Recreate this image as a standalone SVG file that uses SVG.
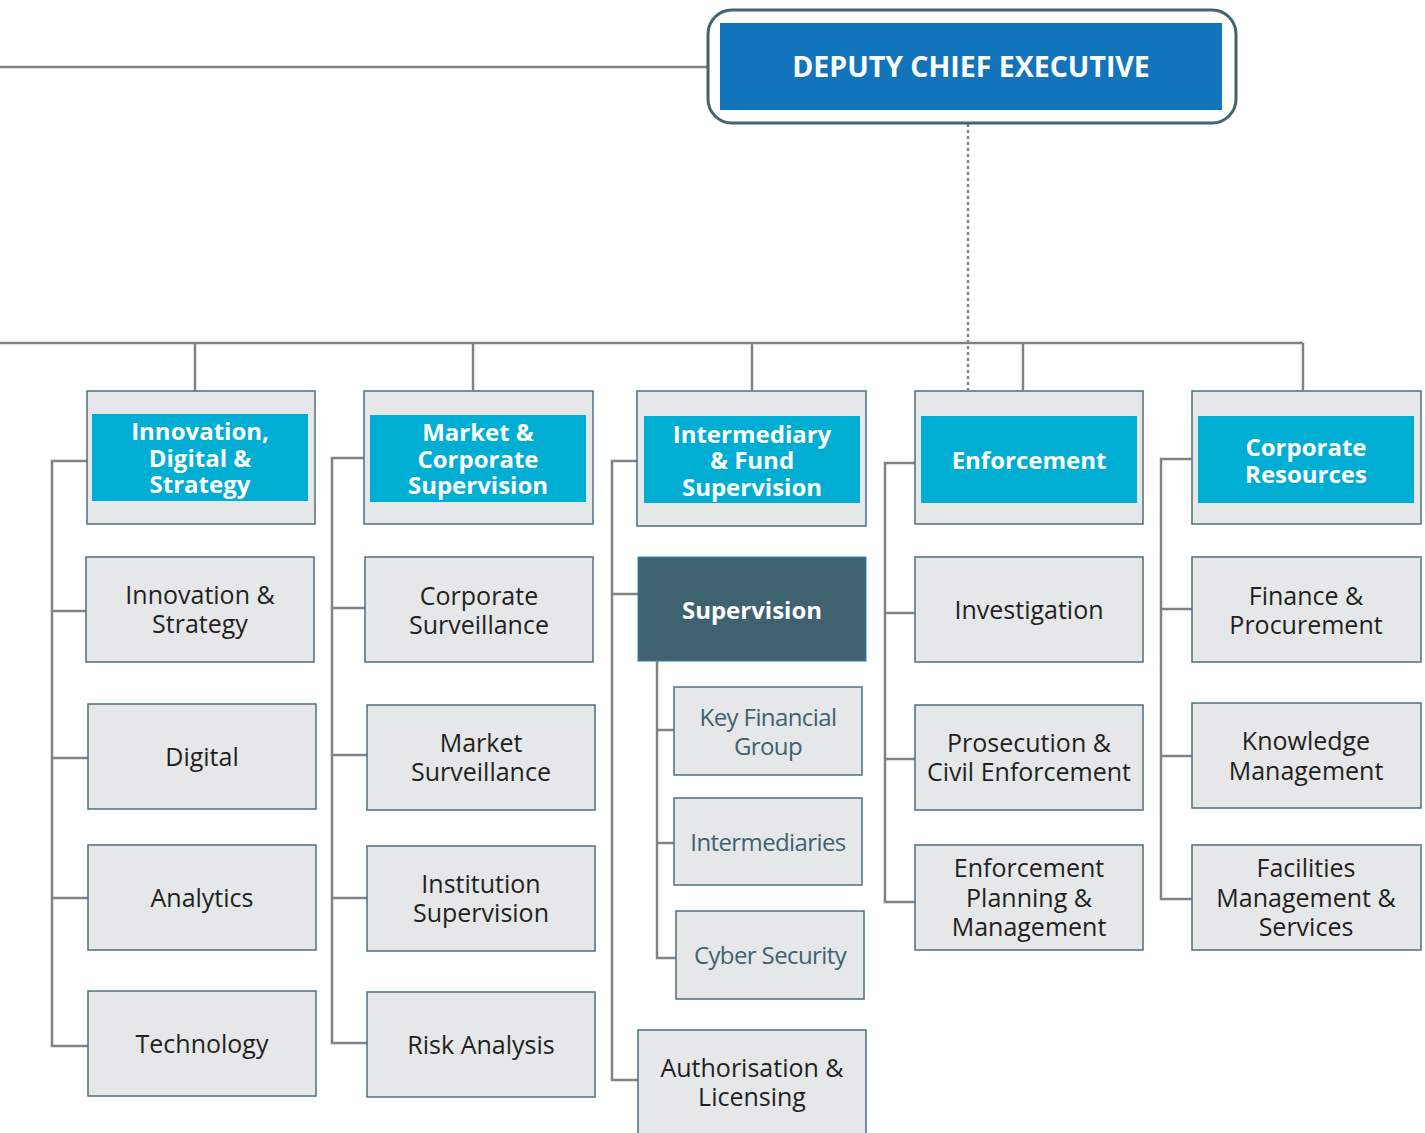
<svg xmlns="http://www.w3.org/2000/svg" width="1425" height="1133" viewBox="0 0 1425 1133">
<style>
.box{fill:#e6e7e8;stroke:#4f6f7b;stroke-width:1.5}
.hdr{fill:#00aed3}
.dark{fill:#3f6270;stroke:#2f7fc0;stroke-width:1}
.ln{stroke:#808285;stroke-width:2.5;fill:none}
text{font-family:"Open Sans","Noto Sans",sans-serif;text-anchor:middle;dominant-baseline:central}
.ht{fill:#fff;font-weight:bold;font-size:24px}
.t{fill:#231f20;font-size:25px}
.st{fill:#3f6270;font-size:24px;letter-spacing:-0.6px}
</style>
<g id="connectors">
<path class="ln" d="M0 67H707"/>
<path class="ln" d="M968 124V390" stroke-dasharray="3 3"/>
<path class="ln" d="M0 343H1303M195 343V390M473 343V390M752 343V390M1023 343V390M1303 343V390"/>
<path class="ln" d="M87 461H52V1046H88M52 611H86M52 758H88M52 898H88"/>
<path class="ln" d="M364 458H332V1043H367M332 608H365M332 755H367M332 898H367"/>
<path class="ln" d="M637 461H612V1080H638M612 594H638"/>
<path class="ln" d="M657 661V958H676M657 730H674M657 843H674"/>
<path class="ln" d="M915 463H885V902H915M885 613H915M885 759H915"/>
<path class="ln" d="M1192 459H1161V899H1192M1161 609H1192M1161 756H1192"/>
</g>
<g id="dce">
<rect x="708" y="10" width="528" height="113" rx="24" fill="#fff" stroke="#41646f" stroke-width="3"/>
<rect x="720" y="23" width="502" height="87" fill="#1275bc"/>
<text x="971" y="66" class="ht" style="font-size:28.5px">DEPUTY CHIEF EXECUTIVE</text>
</g>
<g id="ids">
<rect class="box" x="87" y="391" width="228" height="133"/>
<rect class="hdr" x="92" y="414" width="216" height="87"/>
<text class="ht" x="200" y="430">Innovation,</text>
<text class="ht" x="200" y="457">Digital &amp;</text>
<text class="ht" x="200" y="483">Strategy</text>
</g>
<g id="mcs">
<rect class="box" x="364" y="391" width="229" height="133"/>
<rect class="hdr" x="370" y="415" width="216" height="87"/>
<text class="ht" x="478" y="431">Market &amp;</text>
<text class="ht" x="478" y="458">Corporate</text>
<text class="ht" x="478" y="484">Supervision</text>
</g>
<g id="ifs">
<rect class="box" x="637" y="391" width="229" height="135"/>
<rect class="hdr" x="644" y="416" width="216" height="87"/>
<text class="ht" x="752" y="433">Intermediary</text>
<text class="ht" x="752" y="459">&amp; Fund</text>
<text class="ht" x="752" y="486">Supervision</text>
</g>
<g id="enf">
<rect class="box" x="915" y="391" width="228" height="133"/>
<rect class="hdr" x="921" y="416" width="216" height="87"/>
<text class="ht" x="1029" y="459">Enforcement</text>
</g>
<g id="cr">
<rect class="box" x="1192" y="391" width="229" height="133"/>
<rect class="hdr" x="1198" y="416" width="216" height="87"/>
<text class="ht" x="1306" y="446">Corporate</text>
<text class="ht" x="1306" y="473">Resources</text>
</g>
<g id="innov">
<rect class="box" x="86" y="557" width="228" height="105"/>
<text class="t" x="200" y="594">Innovation &amp;</text>
<text class="t" x="200" y="623">Strategy</text>
</g>
<g id="digital">
<rect class="box" x="88" y="704" width="228" height="105"/>
<text class="t" x="202" y="756">Digital</text>
</g>
<g id="analytics">
<rect class="box" x="88" y="845" width="228" height="105"/>
<text class="t" x="202" y="897">Analytics</text>
</g>
<g id="technology">
<rect class="box" x="88" y="991" width="228" height="105"/>
<text class="t" x="202" y="1043">Technology</text>
</g>
<g id="corpsurv">
<rect class="box" x="365" y="557" width="228" height="105"/>
<text class="t" x="479" y="595">Corporate</text>
<text class="t" x="479" y="624">Surveillance</text>
</g>
<g id="mktsurv">
<rect class="box" x="367" y="705" width="228" height="105"/>
<text class="t" x="481" y="742">Market</text>
<text class="t" x="481" y="771">Surveillance</text>
</g>
<g id="instsup">
<rect class="box" x="367" y="846" width="228" height="105"/>
<text class="t" x="481" y="883">Institution</text>
<text class="t" x="481" y="912">Supervision</text>
</g>
<g id="risk">
<rect class="box" x="367" y="992" width="228" height="105"/>
<text class="t" x="481" y="1044">Risk Analysis</text>
</g>
<g id="supervision">
<rect class="dark" x="638" y="557" width="228" height="104"/>
<text class="ht" x="752" y="609">Supervision</text>
</g>
<g id="kfg">
<rect class="box" x="674" y="687" width="188" height="88"/>
<text class="st" x="768" y="716">Key Financial</text>
<text class="st" x="768" y="745">Group</text>
</g>
<g id="intermediaries">
<rect class="box" x="674" y="798" width="188" height="87"/>
<text class="st" x="768" y="841">Intermediaries</text>
</g>
<g id="cyber">
<rect class="box" x="676" y="911" width="188" height="88"/>
<text class="st" x="770" y="954">Cyber Security</text>
</g>
<g id="auth">
<rect class="box" x="638" y="1030" width="228" height="110"/>
<text class="t" x="752" y="1067">Authorisation &amp;</text>
<text class="t" x="752" y="1096">Licensing</text>
</g>
<g id="investigation">
<rect class="box" x="915" y="557" width="228" height="105"/>
<text class="t" x="1029" y="609">Investigation</text>
</g>
<g id="prosecution">
<rect class="box" x="915" y="705" width="228" height="105"/>
<text class="t" x="1029" y="742">Prosecution &amp;</text>
<text class="t" x="1029" y="771">Civil Enforcement</text>
</g>
<g id="enfplan">
<rect class="box" x="915" y="845" width="228" height="105"/>
<text class="t" x="1029" y="867">Enforcement</text>
<text class="t" x="1029" y="897">Planning &amp;</text>
<text class="t" x="1029" y="926">Management</text>
</g>
<g id="finance">
<rect class="box" x="1192" y="557" width="229" height="105"/>
<text class="t" x="1306" y="595">Finance &amp;</text>
<text class="t" x="1306" y="624">Procurement</text>
</g>
<g id="knowledge">
<rect class="box" x="1192" y="703" width="229" height="105"/>
<text class="t" x="1306" y="740">Knowledge</text>
<text class="t" x="1306" y="770">Management</text>
</g>
<g id="facilities">
<rect class="box" x="1192" y="845" width="229" height="105"/>
<text class="t" x="1306" y="867">Facilities</text>
<text class="t" x="1306" y="897">Management &amp;</text>
<text class="t" x="1306" y="926">Services</text>
</g>
</svg>
